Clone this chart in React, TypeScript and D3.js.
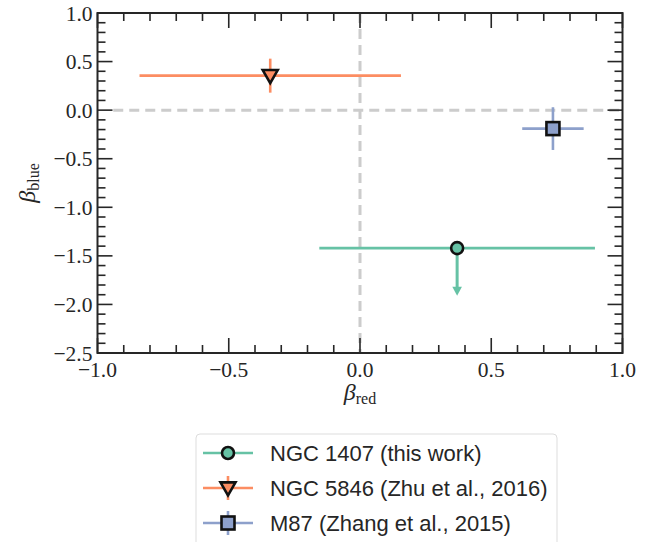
import React from "react";
import { scaleLinear, range } from "d3";

// data
const names = ["NGC 1407 (this work)", "NGC 5846 (Zhu et al., 2016)", "M87 (Zhang et al., 2015)"];
const colors = ["#66c2a5", "#fc8d62", "#8da0cb"];
const markers = ["circle", "triangle-down", "square"];
const xVals = [0.37, -0.342, 0.735];
const yVals = [-1.42, 0.355, -0.19];
const xErr = [0.525, 0.498, 0.117];
const yErr = [0, 0.175, 0.22];
const upperLimitLen = [0.49, 0, 0]; // NGC 1407 is an upper limit
const xTicks = [-1.0, -0.5, 0.0, 0.5, 1.0];
const yTicks = [1.0, 0.5, 0.0, -0.5, -1.0, -1.5, -2.0, -2.5];

const W = 648;
const H = 542;
const left = 97.5;
const right = 622.5;
const top = 13;
const bottom = 353;

const fmt = (v: number) => (v < 0 ? "\u2212" : "") + Math.abs(v).toFixed(1);

function Marker({ kind, x, y, color }: { kind: string; x: number; y: number; color: string }) {
  if (kind === "circle") {
    return <circle cx={x} cy={y} r={6} fill={color} stroke="#111" strokeWidth={2.6} />;
  }
  if (kind === "square") {
    return <rect x={x - 6.5} y={y - 6.5} width={13} height={13} fill={color} stroke="#111" strokeWidth={2.6} />;
  }
  // down triangle
  const s = 7.5;
  const pts = `${x - s},${y - s * 0.75} ${x + s},${y - s * 0.75} ${x},${y + s}`;
  return <polygon points={pts} fill={color} stroke="#111" strokeWidth={2.6} strokeLinejoin="miter" />;
}

export default function App() {
  const xScale = scaleLinear().domain([-1, 1]).range([left, right]);
  const yScale = scaleLinear().domain([-2.5, 1]).range([bottom, top]);

  const xMinor = range(-10, 11).map((d) => d / 10);
  const yMinor = range(-25, 11).map((d) => d / 10);
  const isMajor = (v: number) => Math.abs(v * 2 - Math.round(v * 2)) < 1e-6;

  const axisCol = "#262626";
  const serif = "'Liberation Serif', 'DejaVu Serif', serif";
  const sans = "'Liberation Sans', 'DejaVu Sans', sans-serif";

  const legendX = 196;
  const legendTop = 434;
  const rowY = [453, 488, 523];

  return (
    <div style={{ position: "fixed", left: 0, top: 0 }}>
      <svg width={W} height={H} style={{ display: "block", background: "#fff" }}>
        {/* reference lines */}
        <line x1={xScale(-0.94)} x2={xScale(1)} y1={yScale(0)} y2={yScale(0)} stroke="#cccccc" strokeWidth={3} strokeDasharray="10,6" />
        <line x1={xScale(0)} x2={xScale(0)} y1={yScale(1)} y2={yScale(-2.5)} stroke="#cccccc" strokeWidth={3} strokeDasharray="10,6" />

        {/* error bars and points */}
        {names.map((n, i) => {
          const cx = xScale(xVals[i]);
          const cy = yScale(yVals[i]);
          const c = colors[i];
          const tipY = yScale(yVals[i] - upperLimitLen[i]);
          return (
            <g key={n}>
              <line x1={xScale(xVals[i] - xErr[i])} x2={xScale(xVals[i] + xErr[i])} y1={cy} y2={cy} stroke={c} strokeWidth={2.6} />
              {yErr[i] > 0 && (
                <line x1={cx} x2={cx} y1={yScale(yVals[i] + yErr[i])} y2={yScale(yVals[i] - yErr[i])} stroke={c} strokeWidth={2.6} />
              )}
              {upperLimitLen[i] > 0 && (
                <g>
                  <line x1={cx} x2={cx} y1={cy} y2={tipY - 8} stroke={c} strokeWidth={3} />
                  <polygon points={`${cx - 4.8},${tipY - 9} ${cx + 4.8},${tipY - 9} ${cx},${tipY}`} fill={c} />
                </g>
              )}
              <Marker kind={markers[i]} x={cx} y={cy} color={c} />
            </g>
          );
        })}

        {/* ticks, all sides, pointing in */}
        {xMinor.map((v) => {
          const L = isMajor(v) ? 15 : 8;
          const x = xScale(v);
          return (
            <g key={"xt" + v}>
              <line x1={x} x2={x} y1={bottom} y2={bottom - L} stroke={axisCol} strokeWidth={1.6} />
              <line x1={x} x2={x} y1={top} y2={top + L} stroke={axisCol} strokeWidth={1.6} />
            </g>
          );
        })}
        {yMinor.map((v) => {
          const L = isMajor(v) ? 15 : 8;
          const y = yScale(v);
          return (
            <g key={"yt" + v}>
              <line x1={left} x2={left + L} y1={y} y2={y} stroke={axisCol} strokeWidth={1.6} />
              <line x1={right} x2={right - L} y1={y} y2={y} stroke={axisCol} strokeWidth={1.6} />
            </g>
          );
        })}
        <rect x={left} y={top} width={right - left} height={bottom - top} fill="none" stroke={axisCol} strokeWidth={2} />

        {/* tick labels */}
        {xTicks.map((v) => (
          <text key={"xl" + v} x={xScale(v)} y={377} textAnchor="middle" fontFamily={serif} fontSize={21.5} fill="#262626">
            {fmt(v)}
          </text>
        ))}
        {yTicks.map((v) => (
          <text key={"yl" + v} x={left - 5} y={yScale(v)} dy="0.35em" textAnchor="end" fontFamily={serif} fontSize={21.5} fill="#262626">
            {fmt(v)}
          </text>
        ))}

        {/* axis labels */}
        <text x={(left + right) / 2} y={400} textAnchor="middle" fontFamily={serif} fontSize={24} fill="#262626">
          <tspan fontStyle="italic">β</tspan>
          <tspan fontSize={16} dy={4}>red</tspan>
        </text>
        <text transform={`translate(35,${(top + bottom) / 2}) rotate(-90)`} textAnchor="middle" fontFamily={serif} fontSize={24} fill="#262626">
          <tspan fontStyle="italic">β</tspan>
          <tspan fontSize={16} dy={4}>blue</tspan>
        </text>

        {/* legend */}
        <rect x={legendX} y={legendTop} width={361} height={130} rx={4} fill="#fff" stroke="#dddddd" strokeWidth={1} />
        {names.map((n, i) => {
          const y = rowY[i];
          const mx = 228;
          return (
            <g key={"lg" + n}>
              <line x1={203} x2={253} y1={y} y2={y} stroke={colors[i]} strokeWidth={2.6} />
              {yErr[i] > 0 && <line x1={mx} x2={mx} y1={y - 12} y2={y + 12} stroke={colors[i]} strokeWidth={2.6} />}
              <Marker kind={markers[i]} x={mx} y={y} color={colors[i]} />
              <text x={270} y={y} dy="0.36em" fontFamily={sans} fontSize={22} fill="#262626">
                {n}
              </text>
            </g>
          );
        })}
      </svg>
    </div>
  );
}
